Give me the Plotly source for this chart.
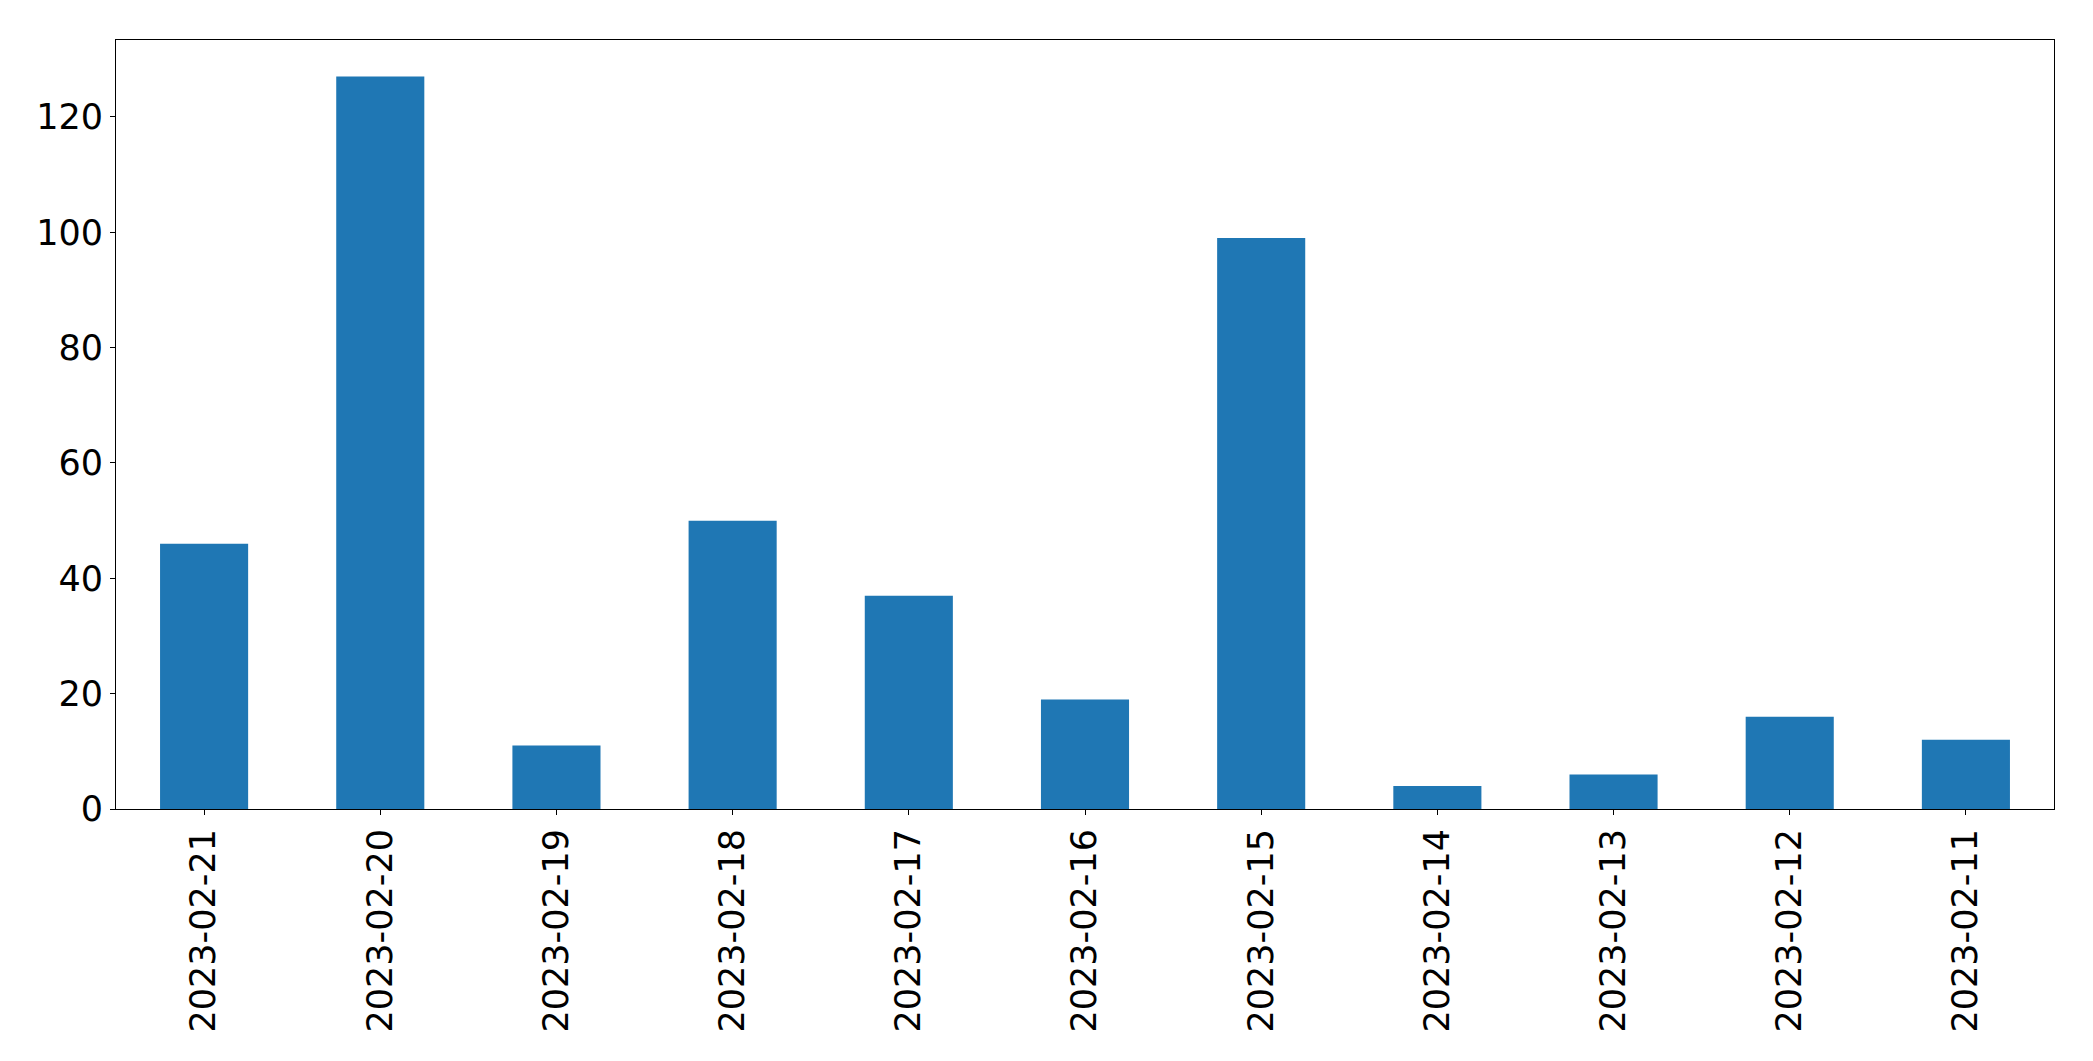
import plotly.graph_objects as go

dates = ["2023-02-21", "2023-02-20", "2023-02-19", "2023-02-18", "2023-02-17",
         "2023-02-16", "2023-02-15", "2023-02-14", "2023-02-13", "2023-02-12",
         "2023-02-11"]
counts = [46, 127, 11, 50, 37, 19, 99, 4, 6, 16, 12]
y_ticks = [0, 20, 40, 60, 80, 100, 120]

fig = go.Figure(go.Bar(x=dates, y=counts, marker=dict(color="#1f77b4", line=dict(width=0))))

fig.update_layout(
    width=2093, height=1061,
    margin=dict(l=108, r=47, t=32, b=260, pad=0),
    paper_bgcolor="white", plot_bgcolor="white",
    bargap=0.5,
    showlegend=False,
    font=dict(family="DejaVu Sans", size=35, color="black"),
)
fig.update_xaxes(
    type="category", range=[-0.5, len(dates) - 0.5],
    tickangle=-90, ticks="outside", ticklen=5, tickwidth=1.1, tickcolor="black",
    showline=True, linecolor="black", linewidth=1.1, mirror=True,
    showgrid=False, zeroline=False,
    tickfont=dict(family="DejaVu Sans", size=35, color="black"),
)
fig.update_yaxes(
    range=[0, 133.35], tickvals=y_ticks, ticktext=[str(v) for v in y_ticks],
    ticks="outside", ticklen=5, tickwidth=1.1, tickcolor="black",
    showline=True, linecolor="black", linewidth=1.1, mirror=True,
    showgrid=False, zeroline=False,
    tickfont=dict(family="DejaVu Sans", size=35, color="black"),
)

fig.write_html("out.html")
